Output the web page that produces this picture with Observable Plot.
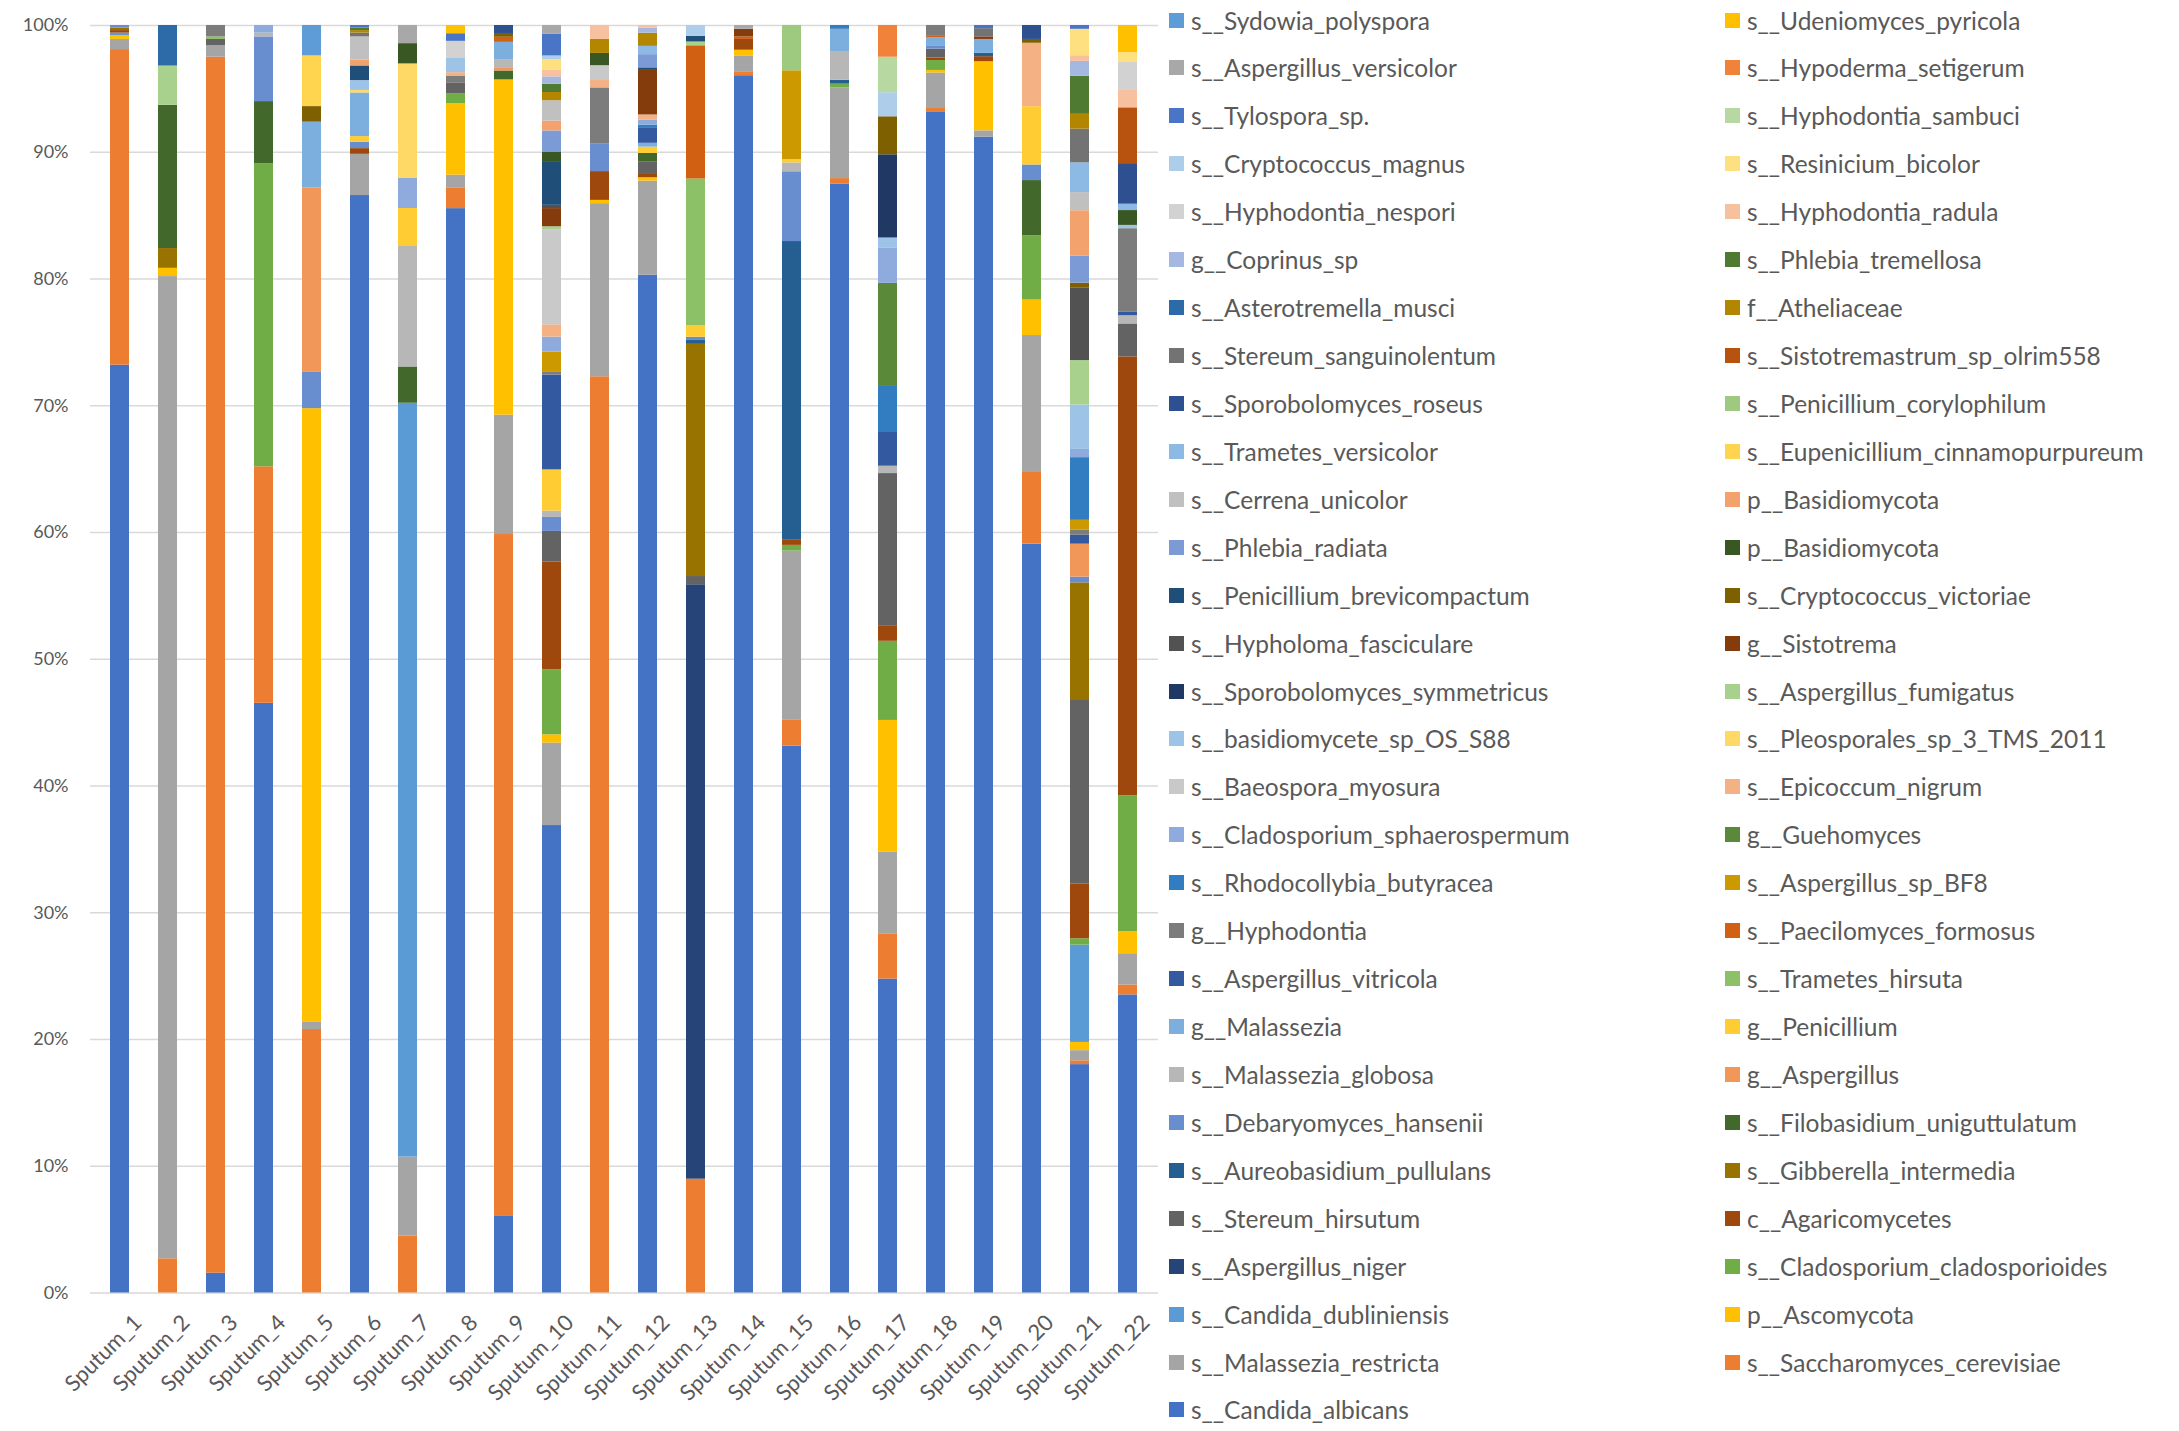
<!DOCTYPE html>
<html>
<head>
<meta charset="utf-8">
<script src="https://cdn.jsdelivr.net/npm/d3@7"></script>
<script src="https://cdn.jsdelivr.net/npm/@observablehq/plot@0.6"></script>
<style>
  html, body { margin: 0; padding: 0; background: #fff; }
  #wrap { position: relative; width: 2179px; height: 1431px; font-family: Lato, "Open Sans", sans-serif; }
  #chart { position: absolute; left: 0; top: 0; }
  .lg { position: absolute; display: flex; align-items: center; color: #595959; font-size: 24.5px; white-space: nowrap; }
  .sw { width: 15px; height: 15px; margin-right: 7px; flex: none; }
</style>
</head>
<body>
<div id="wrap"><div id="chart"></div></div>
<script>
// ---- categories ----
const samples = ["Sputum_1","Sputum_2","Sputum_3","Sputum_4","Sputum_5","Sputum_6","Sputum_7","Sputum_8","Sputum_9","Sputum_10","Sputum_11",
  "Sputum_12","Sputum_13","Sputum_14","Sputum_15","Sputum_16","Sputum_17","Sputum_18","Sputum_19","Sputum_20","Sputum_21","Sputum_22"];

// ---- series (stack order, bottom to top); numbered 1..59 ----
const taxa = [
  "s__Candida_albicans","s__Saccharomyces_cerevisiae","s__Malassezia_restricta","p__Ascomycota","s__Candida_dubliniensis",
  "s__Cladosporium_cladosporioides","s__Aspergillus_niger","c__Agaricomycetes","s__Stereum_hirsutum","s__Gibberella_intermedia",
  "s__Aureobasidium_pullulans","s__Filobasidium_uniguttulatum","s__Debaryomyces_hansenii","g__Aspergillus","s__Malassezia_globosa",
  "g__Penicillium","g__Malassezia","s__Trametes_hirsuta","s__Aspergillus_vitricola","s__Paecilomyces_formosus",
  "g__Hyphodontia","s__Aspergillus_sp_BF8","s__Rhodocollybia_butyracea","g__Guehomyces","s__Cladosporium_sphaerospermum",
  "s__Epicoccum_nigrum","s__Baeospora_myosura","s__Pleosporales_sp_3_TMS_2011","s__basidiomycete_sp_OS_S88","s__Aspergillus_fumigatus",
  "s__Sporobolomyces_symmetricus","g__Sistotrema","s__Hypholoma_fasciculare","s__Cryptococcus_victoriae","s__Penicillium_brevicompactum",
  "p__Basidiomycota","s__Phlebia_radiata","p__Basidiomycota","s__Cerrena_unicolor","s__Eupenicillium_cinnamopurpureum",
  "s__Trametes_versicolor","s__Penicillium_corylophilum","s__Sporobolomyces_roseus","s__Sistotremastrum_sp_olrim558","s__Stereum_sanguinolentum",
  "f__Atheliaceae","s__Asterotremella_musci","s__Phlebia_tremellosa","g__Coprinus_sp","s__Hyphodontia_radula",
  "s__Hyphodontia_nespori","s__Resinicium_bicolor","s__Cryptococcus_magnus","s__Hyphodontia_sambuci","s__Tylospora_sp.",
  "s__Hypoderma_setigerum","s__Aspergillus_versicolor","s__Udeniomyces_pyricola","s__Sydowia_polyspora"
];
const colors = [
  "#4472C4","#ED7D31","#A5A5A5","#FFC000","#5B9BD5","#70AD47","#264478","#9E480E","#636363","#997300",
  "#255E91","#43682B","#698ED0","#F1975A","#B7B7B7","#FFCD33","#7CAFDD","#8CC168","#335AA1","#D26012",
  "#7C7C7C","#CC9A00","#327DC2","#5A8A39","#8FAADC","#F4B183","#C9C9C9","#FFD966","#9DC3E6","#A9D18E",
  "#203864","#843C0C","#525252","#7F6000","#1F4E79","#385723","#7C9BD6","#F3A26E","#C0C0C0","#FFD54F",
  "#8CBAE4","#9DCA7E","#2E5090","#B8520F","#737373","#B38600","#2C6BA8","#4E7A32","#A5B8E2","#F7C09F",
  "#D2D2D2","#FFE080","#ADCDEA","#B7D8A0","#4A74C6","#F0823A","#A8A8A8","#FFC000","#5E9CD8"
];

// ---- values per sample: [series number, percent] ----
const sputum_1  = [[1,73.2],[2,24.9],[3,0.8],[4,0.3],[5,0.2],[8,0.2],[10,0.2],[13,0.2]];
const sputum_2  = [[2,2.7],[3,77.5],[4,0.65],[10,1.56],[12,11.3],[30,3.1],[47,3.2]];
const sputum_3  = [[1,1.56],[2,95.9],[3,0.9],[9,0.5],[18,0.2],[21,0.9]];
const sputum_4  = [[1,46.5],[2,18.65],[6,23.9],[12,4.9],[13,5.1],[15,0.3],[25,0.6]];
const sputum_5  = [[2,20.8],[3,0.6],[4,48.4],[13,2.86],[14,14.55],[17,5.2],[34,1.23],[40,4.0],[59,2.4]];
const sputum_6  = [[1,86.55],[3,3.25],[8,0.45],[13,0.5],[16,0.45],[17,3.44],[28,0.2],[29,0.78],[35,1.15],[38,0.47],[39,1.82],[45,0.3],[46,0.2],[48,0.2],[55,0.2]];
const sputum_7  = [[2,4.48],[3,6.24],[5,59.45],[12,2.86],[15,9.5],[16,3.0],[25,2.4],[28,9.0],[36,1.6],[57,1.43]];
const sputum_8  = [[1,85.5],[2,1.6],[3,1.04],[4,5.65],[6,0.78],[9,0.85],[21,0.5],[26,0.3],[29,1.17],[51,1.3],[55,0.6],[58,0.65]];
const sputum_9  = [[1,6.04],[2,53.8],[3,9.42],[4,26.45],[12,0.7],[14,0.26],[15,0.6],[17,1.4],[20,0.4],[34,0.3],[43,0.63]];
const sputum_10 = [[1,36.84],[3,6.5],[4,0.65],[6,5.13],[8,8.5],[9,2.4],[13,1.1],[15,0.5],[16,3.25],[19,7.47],[21,0.26],[22,1.56],
  [25,1.17],[26,0.97],[27,7.47],[30,0.26],[32,1.43],[33,0.26],[35,3.38],[36,0.78],[37,1.7],[38,0.78],[39,1.6],[46,0.65],[48,0.65],
  [49,0.58],[50,0.5],[52,0.85],[53,0.3],[55,1.7],[57,0.7]];
const sputum_11 = [[2,72.25],[3,13.65],[4,0.26],[8,2.27],[13,2.2],[21,4.4],[26,0.58],[27,1.17],[36,0.97],[46,1.1],[50,1.1]];
const sputum_12 = [[1,80.0],[3,7.4],[4,0.26],[8,0.26],[9,1.0],[12,0.65],[16,0.5],[17,0.3],[19,1.17],[23,0.26],[25,0.4],[26,0.4],
  [32,3.5],[35,0.2],[37,1.04],[41,0.65],[46,1.04],[49,0.4],[50,0.2]];
const sputum_13 = [[2,8.97],[7,46.85],[9,0.65],[10,18.3],[11,0.3],[13,0.26],[16,0.9],[18,11.57],[20,10.5],[30,0.3],[35,0.45],[53,0.85]];
const sputum_14 = [[1,96.0],[2,0.26],[3,1.3],[4,0.45],[8,0.85],[20,0.2],[32,0.6],[57,0.3]];
const sputum_15 = [[1,43.1],[2,2.08],[3,13.3],[6,0.45],[8,0.45],[11,23.5],[13,5.5],[15,0.7],[16,0.26],[22,7.0],[42,3.57]];
const sputum_16 = [[1,87.4],[2,0.45],[3,7.15],[6,0.3],[11,0.3],[15,2.27],[17,1.75],[23,0.3]];
const sputum_17 = [[1,24.76],[2,3.57],[3,6.43],[4,10.4],[6,6.24],[8,1.23],[9,12.0],[15,0.58],[19,2.66],[23,3.7],[24,8.06],[25,2.8],
  [29,0.78],[31,6.56],[34,3.0],[53,1.9],[54,2.8],[56,2.5]];
const sputum_18 = [[1,93.05],[2,0.26],[3,2.8],[4,0.2],[6,0.78],[8,0.2],[9,0.7],[13,0.26],[17,0.65],[20,0.15],[21,0.8]];
const sputum_19 = [[1,91.2],[3,0.5],[4,5.45],[8,0.4],[11,0.26],[17,1.1],[32,0.2],[45,0.65],[55,0.25]];
const sputum_20 = [[1,59.06],[2,5.65],[3,10.8],[4,2.8],[6,5.07],[12,4.35],[13,1.23],[16,4.6],[26,5.0],[34,0.3],[43,1.1]];
const sputum_21 = [[1,18.0],[2,0.3],[3,0.8],[4,0.65],[5,7.67],[6,0.5],[8,4.3],[9,14.55],[10,9.2],[13,0.45],[14,2.6],[19,0.7],[21,0.4],
  [22,0.78],[23,4.94],[25,0.65],[29,3.5],[30,3.5],[33,5.7],[34,0.4],[37,2.14],[38,3.57],[39,1.43],[41,2.34],[45,2.66],[46,1.17],
  [48,3.0],[49,1.17],[50,0.45],[52,2.08],[55,0.3]];
const sputum_22 = [[1,23.5],[2,0.78],[3,2.47],[4,1.75],[6,10.7],[8,34.6],[9,2.6],[15,0.65],[19,0.3],[21,6.56],[29,0.26],[36,1.17],
  [41,0.5],[43,3.2],[44,4.4],[50,1.43],[51,2.14],[52,0.78],[58,2.14]];

const composition = [sputum_1,sputum_2,sputum_3,sputum_4,sputum_5,sputum_6,sputum_7,sputum_8,sputum_9,sputum_10,sputum_11,
  sputum_12,sputum_13,sputum_14,sputum_15,sputum_16,sputum_17,sputum_18,sputum_19,sputum_20,sputum_21,sputum_22];

const yTicks = [0,0.1,0.2,0.3,0.4,0.5,0.6,0.7,0.8,0.9,1];

// ---- build table ----
const table = composition
  .flatMap((rows, i) => rows.map(([k, v]) => ({sample: samples[i], k, value: v})))
  .sort((a, b) => a.k - b.k);

const W = 1165, H = 1431;
const chart = Plot.plot({
  width: W, height: H,
  marginTop: 25, marginBottom: 138.5, marginLeft: 90, marginRight: 7,
  style: {fontFamily: "Lato, 'Open Sans', sans-serif", fontSize: "20px", color: "#595959", background: "#fff"},
  x: {domain: samples, paddingInner: 0.6, paddingOuter: 0.3, align: 0.5, label: null},
  y: {domain: [0, 1], label: null},
  color: {type: "ordinal", domain: d3.range(1, taxa.length + 1), range: colors},
  marks: [
    Plot.ruleY(yTicks, {stroke: "#d9d9d9", strokeWidth: 1.4}),
    Plot.barY(table, Plot.stackY({x: "sample", y: "value", z: "k", fill: "k", offset: "normalize", order: null})),
    Plot.axisY(yTicks, {tickSize: 0, tickPadding: 22, tickFormat: d3.format(".0%"), fontSize: 18, label: null}),
    Plot.axisX({tickSize: 0, tickRotate: -45, tickPadding: 26, dx: 18, fontSize: 22, label: null})
  ]
});
document.getElementById("chart").appendChild(chart);

// ---- legend (two columns, Excel order) ----
const wrap = document.getElementById("wrap");
const rowStep = 47.93, row0 = 20;
for (let r = 0; r < 30; r++) {
  for (let c = 0; c < 2; c++) {
    const idx = taxa.length - (2 * r + c); // 1-based series number
    if (idx < 1) continue;
    const el = document.createElement("div");
    el.className = "lg";
    el.style.left = (c === 0 ? 1169 : 1725) + "px";
    el.style.top = (row0 + r * rowStep - 15) + "px";
    el.style.height = "30px";
    const sw = document.createElement("div");
    sw.className = "sw";
    sw.style.background = colors[idx - 1];
    const tx = document.createElement("span");
    tx.textContent = taxa[idx - 1];
    el.appendChild(sw); el.appendChild(tx);
    wrap.appendChild(el);
  }
}
</script>
</body>
</html>
